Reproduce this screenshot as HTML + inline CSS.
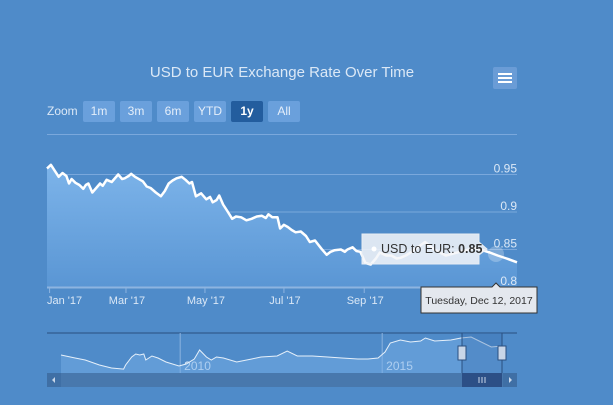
<!DOCTYPE html>
<html><head><meta charset="utf-8"><style>
body{margin:0;width:613px;height:405px;background:#4f8bc9;font-family:"Liberation Sans",sans-serif;overflow:hidden;position:relative}
.t{position:absolute}
.btn{position:absolute;top:101px;height:21px;background:#6aa0dc;color:#e4eefa;font-size:12px;line-height:21px;text-align:center;border-radius:2px}
</style></head><body>
<div class="t" style="left:0;width:564px;top:64px;text-align:center;color:#dbe8f6;font-size:15px">USD to EUR Exchange Rate Over Time</div>
<div class="t" style="left:493px;top:67px;width:24px;height:22px;background:#6a9cd6;border-radius:2px">
<div style="position:absolute;left:5px;top:6px;width:14px;height:2px;background:#fff"></div>
<div style="position:absolute;left:5px;top:10px;width:14px;height:2px;background:#fff"></div>
<div style="position:absolute;left:5px;top:14px;width:14px;height:2px;background:#fff"></div></div>
<div class="t" style="left:47px;top:104px;color:#dbe8f6;font-size:12px">Zoom</div>
<div class="btn" style="left:83px;width:32px">1m</div>
<div class="btn" style="left:120px;width:32px">3m</div>
<div class="btn" style="left:157px;width:32px">6m</div>
<div class="btn" style="left:194px;width:32px">YTD</div>
<div class="btn" style="left:231px;width:32px;background:#235d9e;color:#fff;font-weight:bold">1y</div>
<div class="btn" style="left:268px;width:32px">All</div>
<svg id="c" width="613" height="405" style="position:absolute;left:0;top:0"></svg>
<script>
const days=[-2,1,4,7,10,13,15,17,20,23,26,28,30,33,36,39,41,44,48,53,56,58,61,63,66,68,72,75,78,82,86,89,92,95,98,102,105,108,110,113,117,121,124,126,129,131,134,137,141,144,148,152,156,160,164,167,169,172,176,178,181,184,187,190,194,198,201,205,210,214,217,220,225,228,230,234,237,240,244,248,252,255,260,264,268,271,275,278,290,298,306,317,329,340,346,353,361];
const rates=[0.958,0.963,0.955,0.947,0.952,0.948,0.938,0.944,0.939,0.936,0.931,0.936,0.938,0.926,0.932,0.938,0.935,0.943,0.94,0.95,0.944,0.945,0.948,0.951,0.947,0.945,0.941,0.934,0.932,0.926,0.921,0.928,0.938,0.942,0.945,0.947,0.943,0.938,0.94,0.921,0.925,0.917,0.92,0.913,0.916,0.922,0.91,0.902,0.891,0.894,0.893,0.889,0.891,0.894,0.895,0.892,0.897,0.893,0.893,0.878,0.883,0.88,0.876,0.873,0.874,0.868,0.86,0.862,0.851,0.843,0.847,0.849,0.85,0.847,0.85,0.853,0.848,0.847,0.832,0.83,0.838,0.846,0.842,0.842,0.838,0.839,0.842,0.845,0.86,0.849,0.842,0.847,0.852,0.846,0.842,0.838,0.833];
const yTicks=[0.8,0.85,0.9,0.95];
const xTickDays=[0,59,120,181,243];
const xTickLabels=["Jan '17","Mar '17","May '17","Jul '17","Sep '17"];
const navYears=[2007.05,2007.4,2007.65,2008.0,2008.3,2008.6,2008.65,2008.8,2008.9,2009.0,2009.1,2009.15,2009.3,2009.45,2009.65,2009.97,2010.15,2010.35,2010.48,2010.65,2010.77,2010.9,2011.07,2011.4,2011.77,2012.0,2012.4,2012.65,2012.9,2013.27,2013.65,2014.0,2014.4,2014.65,2014.9,2015.07,2015.2,2015.45,2015.7,2015.95,2016.07,2016.3,2016.7,2016.95,2017.2,2017.45,2017.7,2017.97];
const navRates=[0.775,0.744,0.723,0.672,0.641,0.63,0.672,0.754,0.785,0.775,0.785,0.723,0.765,0.744,0.703,0.662,0.682,0.734,0.826,0.754,0.723,0.754,0.744,0.703,0.734,0.754,0.765,0.816,0.765,0.765,0.754,0.744,0.734,0.734,0.744,0.806,0.899,0.929,0.909,0.919,0.95,0.919,0.929,0.95,0.96,0.909,0.857,0.868];
const NS="http://www.w3.org/2000/svg",svg=document.getElementById('c');
function mk(t,a,p){const e=document.createElementNS(NS,t);for(const k in a)e.setAttribute(k,a[k]);(p||svg).appendChild(e);return e;}
const X=d=>47+(d+2)*(470/363), Y=v=>287-(v-0.8)*750;
const NX=y=>61+(y-2007.05)*40.4, NY=v=>338+(0.95-v)/0.0103;
const defs=mk('defs',{});
const g=mk('linearGradient',{id:'gr',x1:0,y1:0,x2:0,y2:1},defs);
mk('stop',{offset:0,'stop-color':'#7db4ea'},g);mk('stop',{offset:1,'stop-color':'#5a96d4'},g);
let e;
e=mk('line',{x1:47,x2:517,y1:134.5,y2:134.5,stroke:'#7aa8dc'});
yTicks.forEach((v,i)=>{
 if(v>0.8){e=mk('line',{x1:47,x2:517,y1:Y(v),y2:Y(v),stroke:'#7aa8dc'});}
});
let pts=days.map((d,i)=>X(d).toFixed(1)+','+Y(rates[i]).toFixed(1)).join(' ');
e=mk('polygon',{points:pts+' '+X(days[days.length-1])+','+287+' '+X(days[0])+','+287,fill:'url(#gr)'});

e=mk('polyline',{points:pts,fill:'none',stroke:'#fff','stroke-width':2.5,'stroke-linejoin':'round'});

e=mk('line',{x1:47,x2:517,y1:287.5,y2:287.5,stroke:'#8db4e0','stroke-width':2});
xTickDays.forEach((d,i)=>{
 e=mk('line',{x1:X(d),x2:X(d),y1:288,y2:293,stroke:'#8db4e0'});
 const first=i===0;
 e=mk('text',{x:first?47:X(d)+1,y:304,'text-anchor':first?'start':'middle',fill:'#dbe8f6','font-size':11});e.textContent=xTickLabels[i];
 
});
e=mk('circle',{cx:496,cy:254,r:8,fill:'#ffffff',opacity:0.25});
const tt=mk('g',{});
mk('path',{d:'M362,234 H479 V242 L487,249 L479,255 V264 H362 Z',fill:'#f4f6f9','fill-opacity':0.85,stroke:'#e8edf3'},tt);
mk('circle',{cx:374,cy:249,r:2.5,fill:'#fff'},tt);
e=mk('text',{x:381,y:253,fill:'#333','font-size':12.5},tt);e.innerHTML='USD to EUR: <tspan font-weight="bold">0.85</tspan>';
const dt=mk('g',{});
mk('path',{d:'M421,287 H492 L496,283 L500,287 H537 V313 H421 Z',fill:'#e4e8ee',stroke:'#333'},dt);
e=mk('text',{x:479,y:304,'text-anchor':'middle',fill:'#333','font-size':10.5},dt);e.textContent='Tuesday, Dec 12, 2017';
yTicks.forEach((v,i)=>{
 e=mk('text',{x:517,y:Y(v)-2,'text-anchor':'end',fill:'#dbe8f6','font-size':12});e.textContent=String(v);
 
});
const nv=mk('g',{});
mk('line',{x1:47,x2:517,y1:333,y2:333,stroke:'#2a4f80'},nv);
[2010,2015].forEach(y=>{mk('line',{x1:NX(y),x2:NX(y),y1:333,y2:373,stroke:'#8db4e0'},nv);
 e=mk('text',{x:NX(y)+4,y:370,fill:'#e4eefa','font-size':12},nv);e.textContent=String(y);});
let np=navYears.map((y,i)=>NX(y).toFixed(1)+','+NY(navRates[i]).toFixed(1)).join(' ');
mk('polygon',{points:np+' '+NX(navYears[navYears.length-1])+',373 '+NX(navYears[0])+',373',fill:'#76aee6','fill-opacity':0.5},nv);
mk('polyline',{points:np,fill:'none',stroke:'#e6f0fa','stroke-width':1},nv);
mk('rect',{x:462,y:333,width:40,height:40,fill:'#3a6fae','fill-opacity':0.35},nv);
mk('line',{x1:462,x2:462,y1:333,y2:387,stroke:'#2a4f80'},nv);mk('line',{x1:502,x2:502,y1:333,y2:387,stroke:'#2a4f80'},nv);
[462,502].forEach(x=>{e=mk('rect',{x:x-4,y:346,width:8,height:14,fill:'#c8d6e8',stroke:'#2a4f80'},nv);
 });
const sb=mk('g',{});
mk('rect',{x:47,y:373,width:470,height:14,fill:'#4878ad'},sb);
mk('rect',{x:47,y:373,width:14,height:14,fill:'#3f6fa5'},sb);mk('rect',{x:503,y:373,width:14,height:14,fill:'#3f6fa5'},sb);
mk('path',{d:'M55,377 L52,380 L55,383 Z',fill:'#c8d6e8'},sb);mk('path',{d:'M509,377 L512,380 L509,383 Z',fill:'#c8d6e8'},sb);
mk('rect',{x:462,y:373,width:40,height:14,fill:'#2c4f86'},sb);
[479,482,485].forEach(x=>mk('line',{x1:x,x2:x,y1:377,y2:383,stroke:'#c8d6e8'},sb));
</script>
</body></html>
